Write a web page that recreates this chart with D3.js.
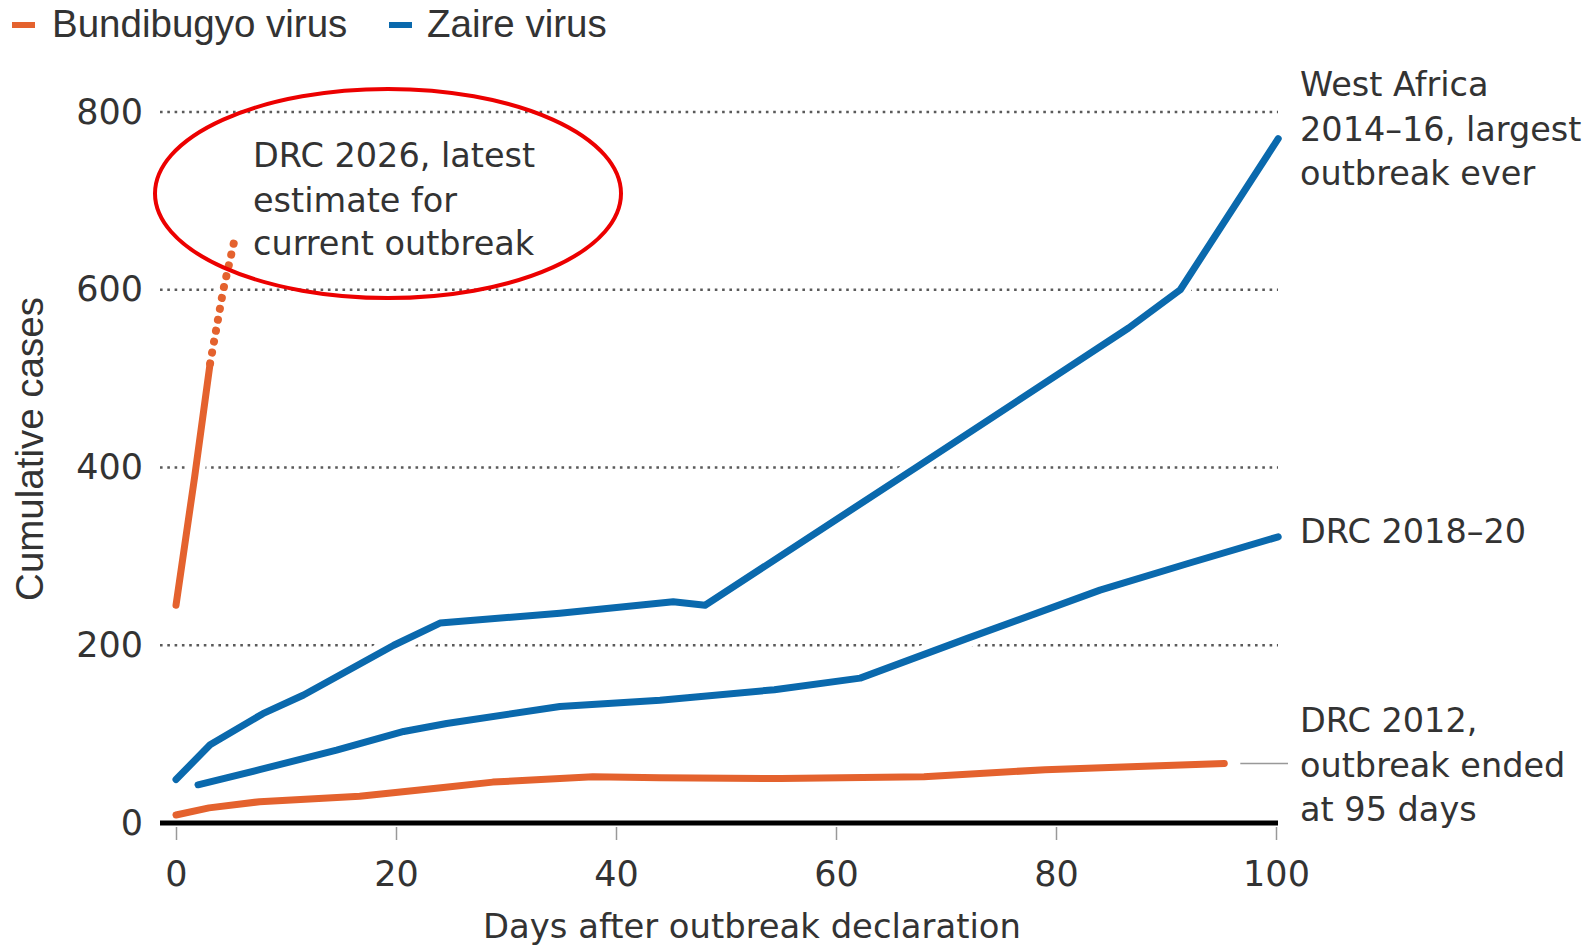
<!DOCTYPE html>
<html>
<head>
<meta charset="utf-8">
<script src="https://cdn.jsdelivr.net/npm/d3@7"></script>
<style>
  html, body { margin: 0; padding: 0; background: #fff; }
  svg { display: block; }
</style>
</head>
<body>
<svg id="chart" width="1583" height="947"></svg>
<script>
// ---- Data ----
const xTicks = [0, 20, 40, 60, 80, 100];
const yTicks = [0, 200, 400, 600, 800];

// Bundibugyo virus, DRC 2026 (solid = reported, dotted = latest estimate)
const drc2026Days   = [0, 1.7, 3.1];
const drc2026Cases  = [245, 390, 517];
const drc2026EstDays  = [3.1, 4.3, 5.3];
const drc2026EstCases = [517, 600, 655];

// Bundibugyo virus, DRC 2012
const drc2012Days  = [0, 3, 7.6, 16.7, 24.3, 28.8, 37.9, 44, 55, 68, 79, 95.3];
const drc2012Cases = [9, 17, 24, 30, 40, 46, 52, 51, 50, 52, 60, 67];

// Zaire virus, West Africa 2014-16
const westAfricaDays  = [0, 3.1, 7.9, 11.6, 19.8, 24, 34.9, 45.2, 48.1, 67.4, 86.6, 91.3, 100.2];
const westAfricaCases = [49, 88, 123, 144, 200, 225, 236, 249, 245, 401, 557, 600, 770];

// Zaire virus, DRC 2018-20
const drc2018Days  = [2, 7.6, 14.6, 20.7, 24.6, 34.9, 44, 54.4, 62.2, 72, 84, 92, 100.2];
const drc2018Cases = [43, 60, 82, 103, 112, 131, 138, 150, 163, 208, 262, 292, 322];

const legendLabels = ["Bundibugyo virus", "Zaire virus"];

// ---- Styling ----
const ORANGE = "#e4622e";
const BLUE = "#0a69ad";
const TEXT = "#333";
const ANNO_FONT = "'DejaVu Sans', sans-serif";
const ARIAL = "'Liberation Sans', Arial, sans-serif";

const svg = d3.select("#chart");

const x = d3.scaleLinear().domain([0, 100]).range([176, 1276]);
const y = d3.scaleLinear().domain([0, 800]).range([823, 112]);

const zip = (xs, ys) => xs.map((d, i) => [d, ys[i]]);
const line = d3.line().x(d => x(d[0])).y(d => y(d[1]));

// Gridlines (dotted)
svg.append("g").selectAll("line")
  .data(yTicks.filter(v => v > 0))
  .join("line")
  .attr("x1", 160).attr("x2", x(100) + 2)
  .attr("y1", d => y(d)).attr("y2", d => y(d))
  .attr("stroke", "#5a5a5a")
  .attr("stroke-width", 2.6)
  .attr("stroke-dasharray", "2.6,4.7");

// Series
const series = [
  { pts: zip(drc2012Days, drc2012Cases), color: ORANGE, dotted: false },
  { pts: zip(drc2018Days, drc2018Cases), color: BLUE, dotted: false },
  { pts: zip(westAfricaDays, westAfricaCases), color: BLUE, dotted: false },
  { pts: zip(drc2026Days, drc2026Cases), color: ORANGE, dotted: false },
  { pts: zip(drc2026EstDays, drc2026EstCases), color: ORANGE, dotted: true }
];

// White halos
svg.append("g").selectAll("path")
  .data(series)
  .join("path")
  .attr("d", d => line(d.pts))
  .attr("fill", "none")
  .attr("stroke", "#fff")
  .attr("stroke-width", 19)
  .attr("stroke-linejoin", "round")
  .attr("stroke-linecap", "round");

// Baseline
svg.append("line")
  .attr("x1", 160).attr("x2", x(100) + 2)
  .attr("y1", y(0)).attr("y2", y(0))
  .attr("stroke", "#000").attr("stroke-width", 5);

// Colored lines
svg.append("g").selectAll("path")
  .data(series)
  .join("path")
  .attr("d", d => line(d.pts))
  .attr("fill", "none")
  .attr("stroke", d => d.color)
  .attr("stroke-width", d => d.dotted ? 8 : 7)
  .attr("stroke-linejoin", "round")
  .attr("stroke-linecap", "round")
  .attr("stroke-dasharray", d => d.dotted ? "0.1,11" : null);

// X axis
const xAxis = svg.append("g")
  .attr("transform", `translate(0,${y(0) + 4})`)
  .call(d3.axisBottom(x).tickValues(xTicks).tickSize(13).tickPadding(21));
xAxis.select(".domain").remove();
xAxis.selectAll(".tick line").attr("stroke", "#999").attr("stroke-width", 1.5);
xAxis.selectAll(".tick text")
  .attr("font-family", ANNO_FONT).attr("font-size", 35).attr("fill", TEXT);

// Y axis
const yAxis = svg.append("g")
  .attr("transform", "translate(158,0)")
  .call(d3.axisLeft(y).tickValues(yTicks).tickSize(0).tickPadding(15));
yAxis.select(".domain").remove();
yAxis.selectAll(".tick text")
  .attr("font-family", ANNO_FONT).attr("font-size", 35).attr("fill", TEXT);

// Axis titles
svg.append("text")
  .attr("x", 752).attr("y", 938)
  .attr("text-anchor", "middle")
  .attr("font-family", ANNO_FONT).attr("font-size", 33.8).attr("fill", TEXT)
  .text("Days after outbreak declaration");

svg.append("text")
  .attr("transform", "translate(43,449) rotate(-90)")
  .attr("text-anchor", "middle")
  .attr("font-family", ARIAL).attr("font-size", 38.5).attr("fill", TEXT)
  .text("Cumulative cases");

// Legend
const legend = svg.append("g");
const legendItems = [
  { label: legendLabels[0], color: ORANGE, sx: 12, tx: 52 },
  { label: legendLabels[1], color: BLUE, sx: 389, tx: 427 }
];
legendItems.forEach(it => {
  legend.append("line")
    .attr("x1", it.sx).attr("x2", it.sx + 23)
    .attr("y1", 25).attr("y2", 25)
    .attr("stroke", it.color).attr("stroke-width", 6);
  legend.append("text")
    .attr("x", it.tx).attr("y", 37)
    .attr("font-family", ARIAL).attr("font-size", 38.5).attr("fill", TEXT)
    .text(it.label);
});

// Annotations
function multiline(xPos, baselines, lines) {
  const t = svg.append("text")
    .attr("font-family", ANNO_FONT).attr("font-size", 33.5).attr("fill", TEXT);
  lines.forEach((s, i) => {
    t.append("tspan").attr("x", xPos).attr("y", baselines[i]).text(s);
  });
}
const labelX = x(100) + 24;
multiline(labelX, [96, 141, 185], ["West Africa", "2014–16, largest", "outbreak ever"]);
multiline(labelX, [543], ["DRC 2018–20"]);
multiline(labelX, [732, 777, 821], ["DRC 2012,", "outbreak ended", "at 95 days"]);
multiline(253, [167, 212, 255], ["DRC 2026, latest", "estimate for", "current outbreak"]);

// Leader line for DRC 2012
svg.append("line")
  .attr("x1", x(95.3) + 16).attr("x2", labelX - 12)
  .attr("y1", y(67)).attr("y2", y(67))
  .attr("stroke", "#999").attr("stroke-width", 1.5);

// Red ellipse highlight
svg.append("ellipse")
  .attr("cx", 388).attr("cy", 193.5)
  .attr("rx", 233).attr("ry", 104.5)
  .attr("fill", "none")
  .attr("stroke", "#ec0000")
  .attr("stroke-width", 4);
</script>
</body>
</html>
